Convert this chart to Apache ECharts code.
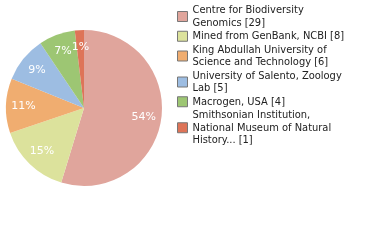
<!DOCTYPE html>
<html><head><meta charset="utf-8">
<script src="https://cdn.jsdelivr.net/npm/echarts@6/dist/echarts.min.js"></script>
<style>html,body{margin:0;padding:0;background:#fff}#c{width:380px;height:240px}</style>
</head><body><div id="c"></div>
<script>
var categories = ["Centre for Biodiversity\nGenomics [29]", "Mined from GenBank, NCBI [8]", "King Abdullah University of\nScience and Technology [6]", "University of Salento, Zoology\nLab [5]", "Macrogen, USA [4]", "Smithsonian Institution,\nNational Museum of Natural\nHistory... [1]"];
var values = [29, 8, 6, 5, 4, 1];
var percentLabels = ["54%", "15%", "11%", "9%", "7%", "1%"];
var colors = ["#e0a59c", "#dce29c", "#f0ad70", "#9dbde2", "#9dc673", "#de7458"];

var chart = echarts.init(document.getElementById('c'), null, {renderer: 'canvas'});
var mainData = values.map(function (v, i) { return {name: categories[i], value: v, itemStyle: {color: colors[i]}}; });
var labelData = values.map(function (v, i) { return {name: categories[i], value: v, itemStyle: {color: 'rgba(0,0,0,0)'}, label: {formatter: percentLabels[i]}}; });
chart.setOption({
  animation: false,
  legend: {
    orient: 'vertical', left: 172, top: -1,
    itemWidth: 10, itemHeight: 10, itemGap: 1,
    textStyle: {fontFamily: 'DejaVu Sans Condensed, DejaVu Sans', fontSize: 11, color: '#222', lineHeight: 12.5},
    data: categories.map(function (c, i) { return {name: c, icon: 'rect', itemStyle: {color: colors[i], borderColor: '#777', borderWidth: 1}}; })
  },
  series: [{
    type: 'pie', center: [84, 108], radius: [0, 78], startAngle: 90, clockwise: true,
    label: {show: false}, labelLine: {show: false}, silent: true,
    itemStyle: {borderWidth: 0},
    data: mainData
  }, {
    type: 'pie', center: [84, 108], radius: [37, 78], startAngle: 90, clockwise: true,
    silent: true, legendHoverLink: false,
    label: {show: true, position: 'inside', color: '#fff', fontSize: 11, fontFamily: 'DejaVu Sans'},
    labelLine: {show: false},
    itemStyle: {borderWidth: 0},
    data: labelData
  }]
});
</script></body></html>
